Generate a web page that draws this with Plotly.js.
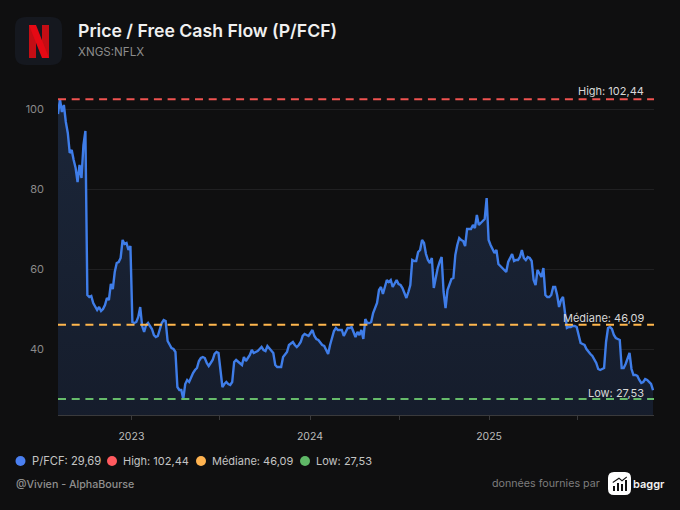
<!DOCTYPE html>
<html>
<head>
<meta charset="utf-8">
<script src="https://cdn.plot.ly/plotly-3.0.1.min.js"></script>
<style>
  html, body { margin: 0; padding: 0; background: #0f0f10; }
  #chart { width: 680px; height: 510px; }
</style>
</head>
<body>
<div id="chart"></div>
<script>
// values, one every 4 days from the start date
const startDate = '2022-08-04';
const stepDays = 4;
const pfcfValues = [
  98.75, 102.44, 99.25, 101, 96.75, 94, 89, 89.75, 87.25, 85.25, 81.75, 86, 82.75, 91, 94.5,
  53.5, 53, 53.25, 51.5, 50.75, 49.75, 50.5, 49.5, 50, 51, 52.75, 52.25, 56.25, 55, 59.25, 61.5, 61.75, 62.75, 67.25, 66.25, 66.5, 64.75, 65.75,
  46.75, 46.5, 46.75, 48, 50.5, 45.75, 44.25, 46, 46.5, 45.75, 45, 43.5, 43, 43.25, 45.25, 46.5, 47.25, 47, 42, 41, 40.25, 40, 39.25, 30.5, 29.75, 29.75, 27.53, 31.25, 32.25,
  31.75, 33, 34, 34.75, 35.25, 37, 37.75, 38, 37.75, 36.5, 35.75, 36.5, 37.25, 38.75, 39.25, 39, 34.75, 30.5, 31.25, 31.75, 31.25, 31, 31.75, 36.75, 37.25, 36.75, 36.5, 36, 38, 37, 37.75, 38.5, 39.75, 39, 39.25, 39.5, 40, 40.5, 39.75, 39.5, 40.75, 40.25, 39.5, 39, 36, 35.5, 35.5, 35.5, 38, 38.75, 39.25, 41,
  41.5, 41.75, 41, 40.5, 41, 41.75, 43.25, 43.75, 43.5, 43.25, 44, 44.75, 43.25, 42.5, 42.25, 41.5, 41, 40.75, 39.75, 38.75, 41, 42.75, 44.5, 45.25, 44.75, 44.75, 44.75, 43.25, 44.25, 45.25, 45.25, 45.5, 44.25, 43, 44.25, 43.5, 44.75, 42.5, 47.5, 46.5, 46.5, 46.75, 49, 50.5, 51.5, 54.75, 55.5, 53.75, 55.5, 57.25, 56.75,
  57.25, 55.5, 56.5, 57.25, 56.25, 56, 55.25, 54, 52.75, 54.25, 56, 62.25, 62, 62, 64.25, 64.75, 67.25, 66.5, 63.75, 62.25, 61.5, 62.75, 55.25, 57.75, 60.25, 61.75, 63, 54.25, 50.25, 54.75, 56.25, 57.5, 57.75, 63.5, 66, 67.75, 67.25, 67, 65.75, 70, 70, 70, 71, 70.25, 73.5, 71, 71.5, 72, 72.5, 77.75, 67.25,
  66, 64.75, 64, 64.75, 61.25, 60.75, 60.25, 59.75, 59.25, 61.75, 62.75, 63.75, 62, 62.25, 62.25, 63, 64.75, 62.75, 62.25, 63, 62.75, 62, 57.25, 56, 59.75, 58.75, 58, 60.25, 53.5, 53, 53, 53.5, 55.5, 55.5, 53.5, 50.5, 52.25, 53, 49.25, 45.25, 45.5, 45.5, 45.75, 45.75, 45.5, 43.5, 41.5,
  41.25, 41, 40, 39.25, 38.75, 38.25, 37.5, 36.5, 35, 34.75, 35, 35.25, 41.75, 45.25, 45.5, 45, 43.5, 42.75, 42.5, 42.25, 35.25, 35.25, 36.25, 37.75, 39, 35, 33.5, 33.5, 33.25, 32.25, 31.5, 31.75, 32.5, 32.25, 31.75, 31.25, 29.69
];
const highValue = 102.44;
const medianValue = 46.09;
const lowValue = 27.53;
const xRange = ['2022-08-04', '2025-12-04'];
const yRange = [23.5, 103];
const xTickVals = ['2023-01-01', '2023-07-01', '2024-01-01', '2024-07-01', '2025-01-01', '2025-07-01'];
const xTickText = ['2023', '', '2024', '', '2025', ''];
const yTickVals = [40, 60, 80, 100];

const W = 680, H = 510;
const M = { l: 58, r: 26, t: 97, b: 95 };
const FONT = 'Inter, "Open Sans", sans-serif';

const dates = pfcfValues.map((v, i) => {
  const d = new Date(startDate + 'T00:00:00Z');
  d.setUTCDate(d.getUTCDate() + i * stepDays);
  return d.toISOString().slice(0, 10);
});

// header, legend and footer are placed in page pixels
const px = x => (x - M.l) / (W - M.l - M.r);
const py = y => 1 - (y - M.t) / (H - M.t - M.b);

function note(x, y, text, color, size, anchor, weight) {
  return {
    xref: 'paper', yref: 'paper', x: px(x), y: py(y), text: text,
    showarrow: false, xanchor: anchor || 'left', yanchor: 'middle',
    borderpad: 0, borderwidth: 0,
    font: { family: FONT, color: color, size: size, weight: weight || 400 }
  };
}

function dot(cx, cy, r, color) {
  return {
    type: 'circle', xref: 'paper', yref: 'paper', layer: 'above',
    x0: px(cx - r), x1: px(cx + r), y0: py(cy - r), y1: py(cy + r),
    fillcolor: color, line: { width: 0 }
  };
}

function poly(points, color) {
  const d = points.map((p, i) => (i ? 'L' : 'M') + px(p[0]) + ',' + py(p[1])).join(' ') + ' Z';
  return { type: 'path', xref: 'paper', yref: 'paper', layer: 'above', path: d, fillcolor: color, line: { width: 0 } };
}

function roundRect(x0, y0, x1, y1, r, color) {
  const P = (x, y) => px(x) + ',' + py(y);
  const d = 'M' + P(x0 + r, y0) + ' L' + P(x1 - r, y0) + ' Q' + P(x1, y0) + ' ' + P(x1, y0 + r) +
    ' L' + P(x1, y1 - r) + ' Q' + P(x1, y1) + ' ' + P(x1 - r, y1) +
    ' L' + P(x0 + r, y1) + ' Q' + P(x0, y1) + ' ' + P(x0, y1 - r) +
    ' L' + P(x0, y0 + r) + ' Q' + P(x0, y0) + ' ' + P(x0 + r, y0) + ' Z';
  return { type: 'path', xref: 'paper', yref: 'paper', layer: 'above', path: d, fillcolor: color, line: { width: 0 } };
}

function refLine(name, value, color) {
  return {
    x: xRange, y: [value, value], name: name, type: 'scatter', mode: 'lines',
    line: { color: color, width: 2, dash: '8px,5.7px' }, hoverinfo: 'skip'
  };
}

const data = [
  {
    x: dates, y: pfcfValues, name: 'P/FCF', type: 'scatter', mode: 'lines',
    line: { color: '#3f7de8', width: 2.4 },
    fill: 'tozeroy',
    fillgradient: { type: 'vertical', colorscale: [[0, '#141a28'], [1, '#1b2639']] }
  },
  refLine('High', highValue, '#ef5350'),
  refLine('Médiane', medianValue, '#ffb74d'),
  refLine('Low', lowValue, '#66bb6a')
];

const annotations = [
  note(78, 52, 'XNGS:NFLX', '#8c8c8c', 11.6),
  note(644, 91, 'High: 102,44', '#d8d8d8', 11, 'right'),
  note(644, 317.5, 'Médiane: 46,09', '#d8d8d8', 11, 'right'),
  note(644, 392.5, 'Low: 27,53', '#d8d8d8', 11, 'right'),
  note(32, 461, 'P/FCF: 29,69', '#c4c4c4', 11.2),
  note(122.5, 461, 'High: 102,44', '#c4c4c4', 11),
  note(212, 461, 'Médiane: 46,09', '#c4c4c4', 11),
  note(316, 461, 'Low: 27,53', '#c4c4c4', 11),
  note(16, 484, '@Vivien - AlphaBourse', '#8f8f8f', 10.7, 'left', 500),
  note(600, 483.5, 'données fournies par', '#7d7d7d', 10.7, 'right'),
  note(633, 484, 'baggr', '#f2f2f2', 11, 'left', 600)
];

const shapes = [
  roundRect(15, 17, 62, 65, 11, '#15181f'),
  poly([[29, 25], [36, 25], [36, 58], [29, 58]], '#c40d14'),
  poly([[42, 25], [49, 25], [49, 58], [42, 58]], '#c40d14'),
  poly([[29, 25], [36, 25], [49, 58], [42, 58]], '#e50914'),
  dot(20.5, 461, 5, '#4a7ff0'),
  dot(112, 461, 5, '#ff5a5f'),
  dot(201, 461, 5, '#ffb350'),
  dot(305, 461, 5, '#5fb867'),
  roundRect(608, 472, 631, 495, 6, '#ffffff'),
  poly([[613, 486], [615, 486], [615, 491], [613, 491]], '#111111'),
  poly([[617, 483], [619, 483], [619, 491], [617, 491]], '#111111'),
  poly([[621, 484], [623, 484], [623, 491], [621, 491]], '#111111'),
  poly([[625, 480], [627, 480], [627, 491], [625, 491]], '#111111'),
  poly([[612.5, 482], [619, 477.5], [622, 480], [626.5, 476.5], [627, 477.5], [622, 481.5], [619, 479], [613, 483]], '#111111')
];

const layout = {
  width: W, height: H,
  margin: { l: M.l, r: M.r, t: M.t, b: M.b, pad: 0 },
  paper_bgcolor: '#0f0f10',
  plot_bgcolor: '#0f0f10',
  showlegend: false,
  hovermode: false,
  title: {
    text: 'Price / Free Cash Flow (P/FCF)',
    x: 78 / W, xanchor: 'left', xref: 'container',
    y: 1 - 31 / H, yanchor: 'middle', yref: 'container',
    font: { family: FONT, color: '#f0f0f0', size: 17.65, weight: 600 }
  },
  xaxis: {
    type: 'date', range: xRange, tickmode: 'array', tickvals: xTickVals, ticktext: xTickText,
    showgrid: false, zeroline: false, showline: true, linecolor: '#3a3a3c', linewidth: 1,
    ticks: 'outside', ticklen: 4, tickcolor: '#3a3a3c', tickwidth: 1, ticklabelstandoff: 7,
    tickfont: { family: FONT, color: '#bdbdbd', size: 10.5 }
  },
  yaxis: {
    range: yRange, tickmode: 'array', tickvals: yTickVals,
    showgrid: true, gridcolor: '#202022', gridwidth: 1, zeroline: false, showline: false,
    ticks: '', ticklabelstandoff: 13,
    tickfont: { family: FONT, color: '#8a8a8a', size: 11 }
  },
  annotations: annotations,
  shapes: shapes
};

Plotly.newPlot('chart', data, layout, { staticPlot: true, displayModeBar: false });
</script>
</body>
</html>
